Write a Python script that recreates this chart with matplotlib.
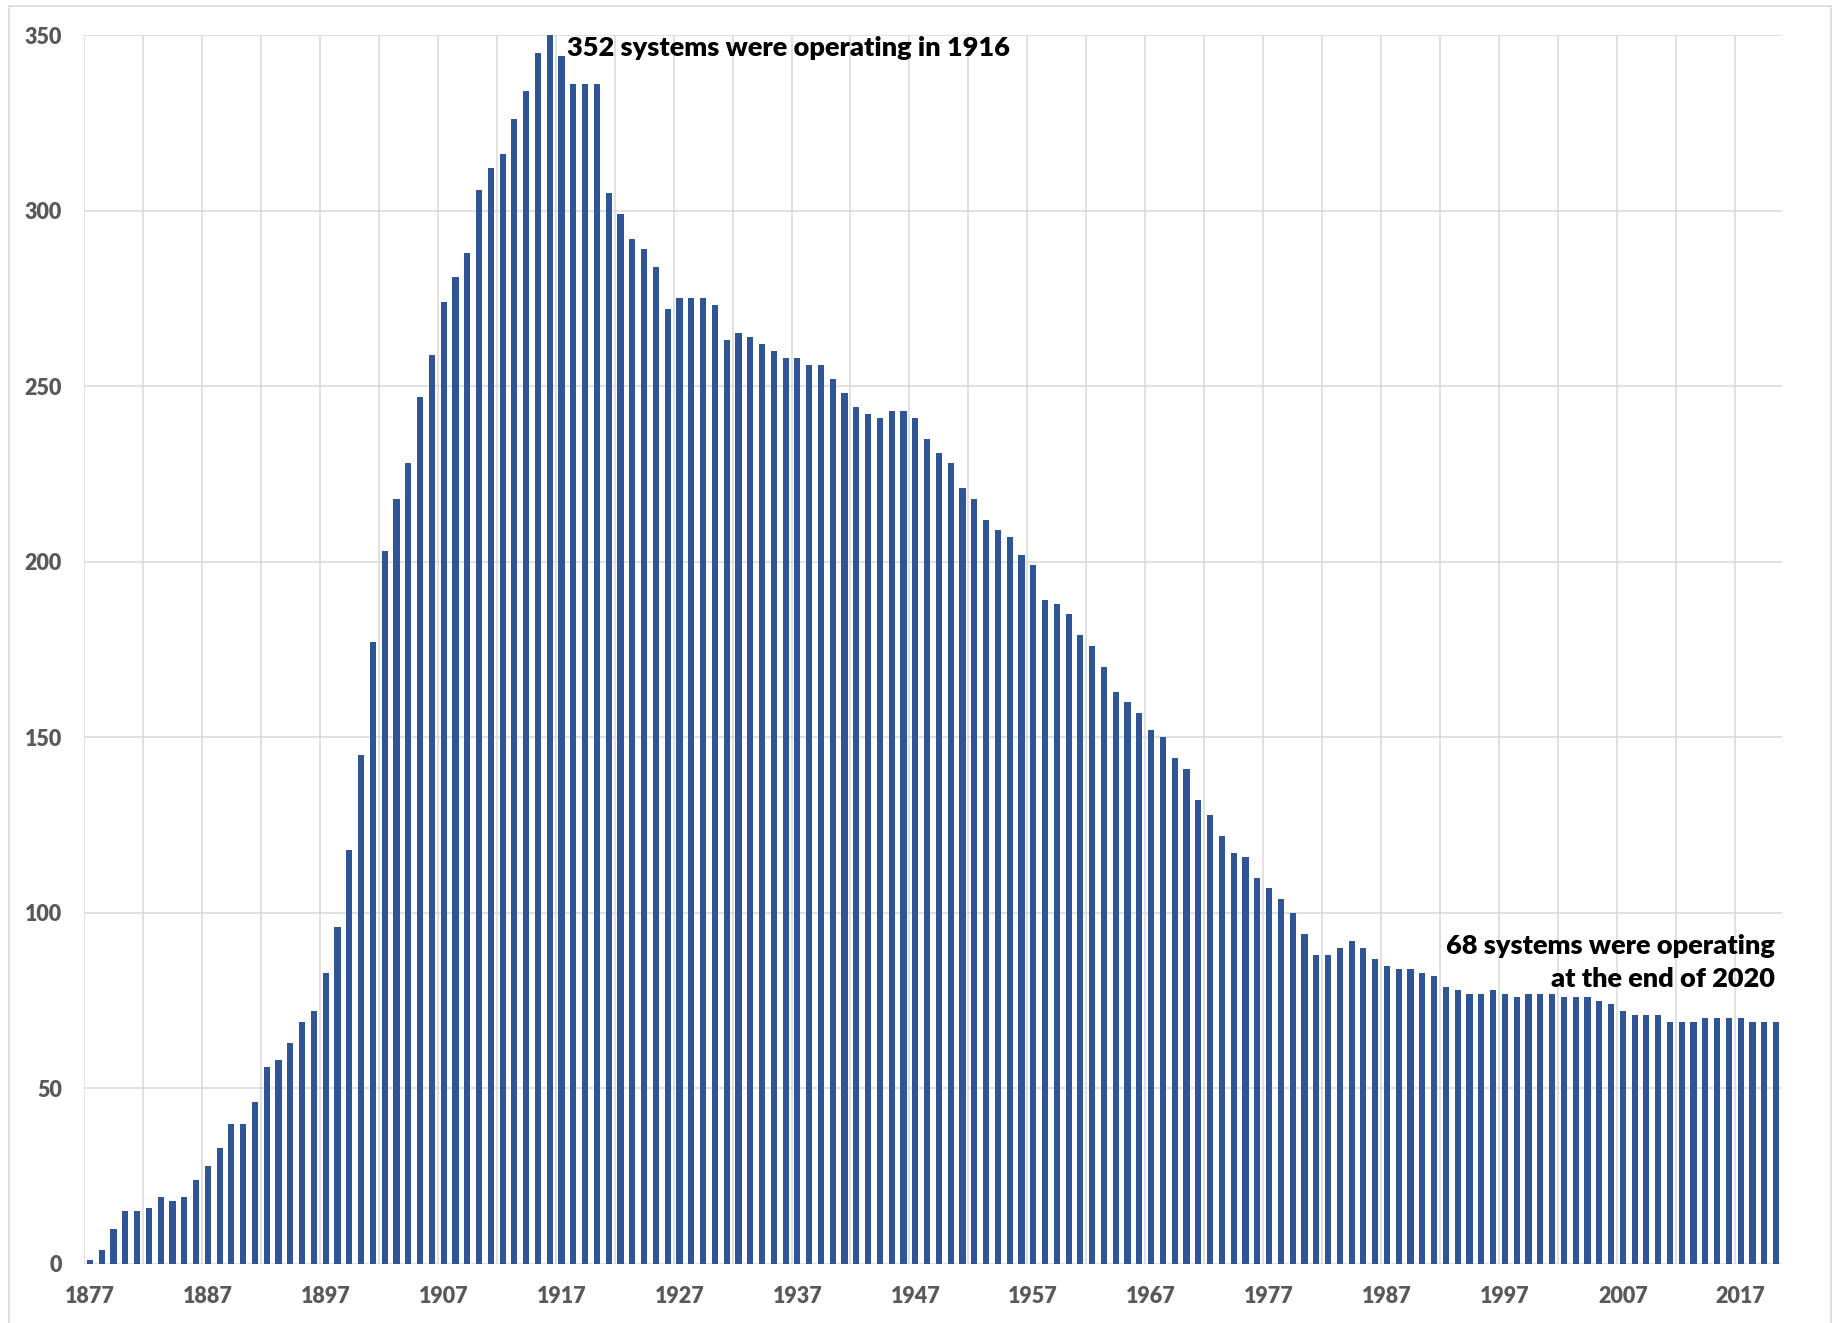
import matplotlib
matplotlib.use("Agg")
import matplotlib.pyplot as plt
from matplotlib.patches import Rectangle

plt.rcParams['font.family'] = ['Lato', 'DejaVu Sans']

# ---- data -------------------------------------------------------------
years = list(range(1877, 2021))
systems = [
    1, 4, 10, 15, 15, 16, 19, 18, 19, 24, 28, 33, 40, 40, 46, 56, 58, 63, 69, 72, 83, 96, 118, 145,  # 1877-1900
    177,                                                                                              # 1901
    203, 218, 228, 247, 259, 274, 281, 288, 306, 312, 316, 326, 334, 345, 352, 344, 336, 336, 336, 305, 299,  # 1902-1922
    292, 289, 284, 272, 275, 275, 275, 273, 263, 265, 264, 262, 260, 258, 258, 256, 256, 252, 248, 244,
    242, 241, 243, 243, 241, 235, 231, 228,                                                           # 1923-1950
    221, 218, 212, 209, 207, 202, 199, 189, 188, 185, 179, 176, 170, 163, 160, 157, 152, 150, 144, 141,
    132, 128, 122, 117, 116, 110, 107, 104, 100,                                                      # 1951-1979
    94, 88, 88, 90, 92, 90, 87, 85, 84, 84, 83, 82, 79, 78, 77, 77, 78, 77, 76, 77, 77, 77, 76, 76, 76,
    75, 74, 72, 71, 71, 71, 69, 69, 69, 70, 70, 70, 70, 69, 69, 69,                                   # 1980-2020
]
x_tick_years = list(range(1877, 2021, 10))
y_ticks = [0, 50, 100, 150, 200, 250, 300, 350]
peak_note = "352 systems were operating in 1916"
end_note = "68 systems were operating\nat the end of 2020"

# ---- figure -----------------------------------------------------------
W, H, DPI = 1835, 1323, 100
fig = plt.figure(figsize=(W / DPI, H / DPI), dpi=DPI)
ax = fig.add_axes([84 / W, (H - 1264) / H, 1698 / W, (1264 - 35) / H])

grid_c = '#D9D9D9'
bar_c = '#2F5597'
lab_c = '#595959'

ax.bar(years, systems, width=0.52, color=bar_c, zorder=3)

ax.set_xlim(years[0] - 0.5, years[-1] + 0.5)
ax.set_ylim(0, 350)

# gridlines
for yv in y_ticks:
    ax.axhline(yv, color=grid_c, lw=1.1, zorder=1)
for k in range(0, len(years), 5):
    ax.axvline(years[0] - 0.5 + k, color=grid_c, lw=1.1, zorder=1)

for s in ax.spines.values():
    s.set_visible(False)

ax.set_yticks(y_ticks)
ax.set_yticklabels([str(v) for v in y_ticks])
ax.set_xticks(x_tick_years)
ax.set_xticklabels([str(v) for v in x_tick_years])
ax.tick_params(axis='both', length=0, labelsize=15.5, labelcolor=lab_c)
ax.tick_params(axis='y', pad=16)
ax.tick_params(axis='x', pad=16)
for t in ax.get_xticklabels() + ax.get_yticklabels():
    t.set_fontweight('heavy')

# annotations
ax.text(1917.45, 346.3, peak_note, ha='left', va='center', fontsize=19.5,
        fontweight='heavy', color='black', zorder=5)
ax.text(2019.9, 85.8, end_note, ha='right', va='center', fontsize=19.5,
        fontweight='heavy', color='black', linespacing=1.45, zorder=5)

# chart-area frame
fig.patches.append(Rectangle((9 / W, -0.05), (1831 - 9) / W, (H - 6) / H + 0.05,
                             transform=fig.transFigure, fill=False,
                             edgecolor=grid_c, lw=1.2))

fig.savefig('out.png', dpi=DPI, facecolor='white')
